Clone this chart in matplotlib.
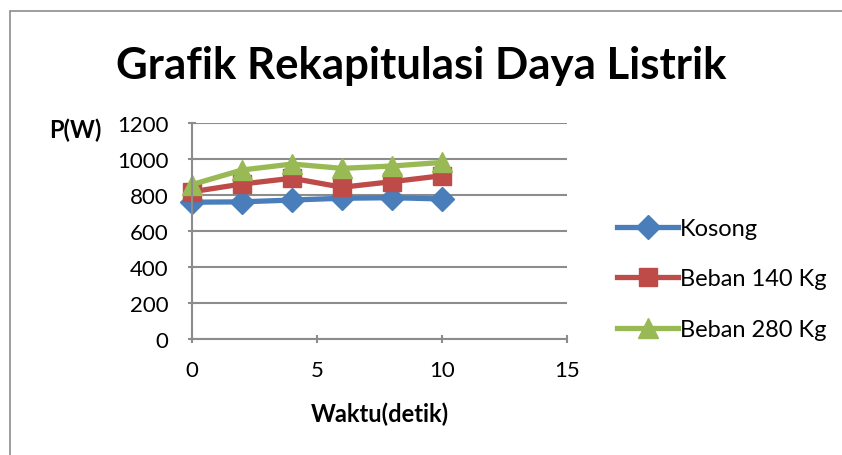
import matplotlib.pyplot as plt
from matplotlib.patches import Rectangle

# Data
waktu = [0, 2, 4, 6, 8, 10]
kosong = [760, 762, 772, 782, 785, 778]
beban_140 = [818, 861, 893, 843, 874, 907]
beban_280 = [858, 939, 972, 948, 961, 981]

plt.rcParams['font.family'] = ['Lato', 'DejaVu Sans']

fig = plt.figure(figsize=(8.42, 4.56), dpi=100)
fig.patches.append(Rectangle((10 / 842, -0.1), 1.2, 1 - 12 / 456 + 0.1,
                             transform=fig.transFigure, fill=False,
                             edgecolor='#8c8c8c', lw=1.2))

ax = fig.add_axes([192 / 842, 1 - 340 / 456, 375 / 842, 216 / 456])

ax.plot(waktu, kosong, color='#4A7EBB', lw=3.8, marker='D', ms=12, label='Kosong', clip_on=False)
ax.plot(waktu, beban_140, color='#BE4B48', lw=3.8, marker='s', ms=13, label='Beban 140 Kg', clip_on=False)
ax.plot(waktu, beban_280, color='#98B954', lw=3.8, marker='^', ms=15, label='Beban 280 Kg', clip_on=False)

ax.set_xlim(0, 15)
ax.set_ylim(0, 1200)
ax.set_xticks([0, 5, 10, 15])
ax.set_yticks(range(0, 1201, 200))
ax.grid(axis='y', color='#8c8c8c', lw=1.5)
ax.set_axisbelow(True)
for s in ['top', 'right']:
    ax.spines[s].set_visible(False)
for s in ['left', 'bottom']:
    ax.spines[s].set_color('#8c8c8c')
    ax.spines[s].set_linewidth(1.5)
ax.tick_params(colors='#8c8c8c', labelcolor='black', labelsize=16, width=1.5,
               length=6, direction='inout')
ax.tick_params(axis='x', pad=12)
ax.tick_params(axis='y', pad=14)

fig.text(0.5, 1 - 66 / 456, 'Grafik Rekapitulasi Daya Listrik', ha='center', va='center',
         fontsize=31.5, fontweight='bold')
fig.text(75 / 842, 1 - 130 / 456, 'P(W)', ha='center', va='center', fontsize=17,
         fontweight='bold')
fig.text(380 / 842, 1 - 414 / 456, 'Waktu(detik)', ha='center', va='center', fontsize=17,
         fontweight='bold')

ax.legend(loc='center left', bbox_to_anchor=(617 / 842, 1 - 280 / 456),
          bbox_transform=fig.transFigure, frameon=False, fontsize=17,
          handlelength=2.6, handletextpad=0.05, labelspacing=1.25, borderaxespad=0,
          borderpad=0)

fig.savefig('out.png', dpi=100)
